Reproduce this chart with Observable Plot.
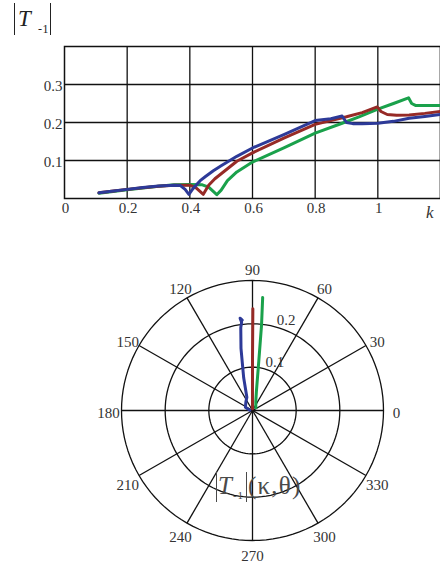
<!DOCTYPE html>
<html><head><meta charset="utf-8">
<script src="https://cdn.jsdelivr.net/npm/d3@7"></script>
<script src="https://cdn.jsdelivr.net/npm/@observablehq/plot@0.6"></script>
<style>
html,body{margin:0;padding:0;background:#fff;}
body{width:440px;height:569px;position:relative;overflow:hidden;font-family:"Liberation Serif","DejaVu Serif",serif;}
.chart{position:absolute;left:0;}
.lbl{position:absolute;line-height:1;white-space:nowrap;}
.bar{position:absolute;width:1.4px;}
</style></head>
<body>
<div id="top" class="chart" style="top:0"></div>
<div id="polar" class="chart" style="top:255px"></div>
<script>
// ---------- data: |T-1| versus k ----------
const xTicks = [0, 0.2, 0.4, 0.6, 0.8, 1];
const xGrid = [0.2, 0.4, 0.6, 0.8, 1, 1.2];
const yTicks = [0.1, 0.2, 0.3];

const kBlue = [0.11, 0.15, 0.2, 0.25, 0.3, 0.35, 0.37, 0.385, 0.397, 0.41, 0.433, 0.45, 0.475, 0.5, 0.55, 0.6, 0.7, 0.8, 0.85, 0.886, 0.9, 0.92, 0.95, 1.0, 1.05, 1.1, 1.15, 1.2];
const tBlue = [0.015, 0.019, 0.024, 0.029, 0.033, 0.035, 0.034, 0.024, 0.011, 0.026, 0.047, 0.058, 0.073, 0.086, 0.111, 0.133, 0.168, 0.205, 0.21, 0.217, 0.2, 0.197, 0.197, 0.198, 0.203, 0.211, 0.216, 0.221];

const kRed = [0.11, 0.15, 0.2, 0.25, 0.3, 0.35, 0.4, 0.42, 0.443, 0.46, 0.48, 0.5, 0.55, 0.6, 0.7, 0.8, 0.9, 0.95, 0.998, 1.01, 1.03, 1.06, 1.1, 1.15, 1.2];
const tRed = [0.015, 0.019, 0.024, 0.028, 0.032, 0.035, 0.035, 0.028, 0.011, 0.035, 0.052, 0.065, 0.098, 0.12, 0.159, 0.195, 0.215, 0.226, 0.241, 0.229, 0.221, 0.219, 0.22, 0.224, 0.229];

const kGreen = [0.11, 0.2, 0.3, 0.35, 0.4, 0.44, 0.46, 0.486, 0.5, 0.52, 0.55, 0.6, 0.7, 0.8, 0.886, 0.94, 1.0, 1.05, 1.098, 1.108, 1.12, 1.15, 1.2];
const tGreen = [0.014, 0.023, 0.032, 0.036, 0.037, 0.036, 0.03, 0.01, 0.022, 0.047, 0.07, 0.096, 0.133, 0.172, 0.198, 0.215, 0.235, 0.25, 0.265, 0.25, 0.245, 0.245, 0.245];

// ---------- data: polar |T-1|(kappa, theta) ----------
const spokeAngles = [0, 30, 60, 90, 120, 150, 180, 210, 240, 270, 300, 330];
const ringValues = [0.1, 0.2, 0.3];
const ringLabels = [0.1, 0.2];

const thetaBlue = [175, 155, 125, 113, 105, 100.4, 98, 97, 97.6, 96.4];
const rBlue = [0.006, 0.018, 0.026, 0.033, 0.078, 0.146, 0.193, 0.205, 0.215, 0.21];
const thetaRed = [90.3, 90, 89.8];
const rRed = [0.004, 0.12, 0.235];
const thetaGreen = [40, 70, 78.7, 82.8, 84, 84.9];
const rGreen = [0.01, 0.022, 0.046, 0.115, 0.198, 0.262];

const colBlue = "#2d3a98", colRed = "#962a26", colGreen = "#1aa14b";
const serif = "Liberation Serif, DejaVu Serif, serif";

const toRows = (ks, ts) => ks.map((k, i) => ({k, t: ts[i]}));
const rad = a => a * Math.PI / 180;
const toPolar = (th, rs) => th.map((a, i) => ({x: rs[i] * Math.cos(rad(a)), y: rs[i] * Math.sin(rad(a))}));

// ---------- top chart ----------
const lineOpts = c => ({x: "k", y: "t", stroke: c, strokeWidth: 3, strokeLinejoin: "round", strokeLinecap: "round"});
const txt = {fontFamily: serif, fontSize: 15, fill: "#333"};
const topChart = Plot.plot({
  width: 440, height: 230,
  marginLeft: 64, marginRight: 0, marginTop: 46, marginBottom: 32,
  x: {domain: [0, 1.2], axis: null},
  y: {domain: [0, 0.4], axis: null},
  style: {background: "transparent", overflow: "visible"},
  marks: [
    Plot.ruleX(xGrid, {x: d => d, stroke: "#111", strokeWidth: 1.3}),
    Plot.ruleY(yTicks, {y: d => d, stroke: "#111", strokeWidth: 1.3}),
    Plot.frame({stroke: "#111", strokeWidth: 1.5}),
    Plot.line(toRows(kGreen, tGreen), lineOpts(colGreen)),
    Plot.line(toRows(kRed, tRed), lineOpts(colRed)),
    Plot.line(toRows(kBlue, tBlue), lineOpts(colBlue)),
    Plot.text(xTicks, {...txt, x: d => d, frameAnchor: "bottom", dy: 14, dx: 1, text: d => String(d)}),
    Plot.text(yTicks, {...txt, y: d => d, frameAnchor: "left", dx: -2, dy: 2, textAnchor: "end", text: d => String(d)}),
    Plot.text(["k"], {...txt, frameAnchor: "bottom-right", dx: -7, dy: 19, fontStyle: "italic", fontSize: 17, text: d => d})
  ]
});
document.getElementById("top").appendChild(topChart);

// ---------- polar chart ----------
const ringPts = ringValues.flatMap(r => d3.range(0, 361, 3).map(a => ({ring: r, x: r * Math.cos(rad(a)), y: r * Math.sin(rad(a))})));
const outer = d3.max(ringValues);
const polarLine = c => ({x: "x", y: "y", stroke: c, strokeWidth: 3, strokeLinejoin: "round", strokeLinecap: "round"});
const polar = Plot.plot({
  width: 440, height: 314,
  marginLeft: 121, marginRight: 57, marginTop: 25, marginBottom: 29,
  x: {domain: [-0.3, 0.3], axis: null},
  y: {domain: [-0.3, 0.3], axis: null},
  style: {background: "transparent", overflow: "visible"},
  marks: [
    Plot.line(ringPts, {x: "x", y: "y", z: "ring", stroke: "#111", strokeWidth: 1.3}),
    Plot.link(spokeAngles, {x1: () => 0, y1: () => 0, x2: a => outer * Math.cos(rad(a)), y2: a => outer * Math.sin(rad(a)), stroke: "#111", strokeWidth: 1.3}),
    Plot.text(spokeAngles, {...txt, x: a => 0.33 * Math.cos(rad(a)), y: a => 0.33 * Math.sin(rad(a)), dy: 3, text: a => String(a)}),
    Plot.text(ringLabels, {...txt, x: r => (r + 0.015) * Math.cos(rad(75)), y: r => (r + 0.015) * Math.sin(rad(75)), textAnchor: "start", text: r => String(r)}),
    Plot.line(toPolar(thetaGreen, rGreen), polarLine(colGreen)),
    Plot.line(toPolar(thetaRed, rRed), polarLine(colRed)),
    Plot.line(toPolar(thetaBlue, rBlue), polarLine(colBlue))
  ]
});
document.getElementById("polar").appendChild(polar);

// ---------- titles (|T-1| and |T-1|(κ,θ)) ----------
function label(text, x, baseline, fs, extra) {
  const s = document.createElement("span");
  s.className = "lbl";
  s.textContent = text;
  s.style.left = x + "px";
  s.style.top = (baseline - 0.8375 * fs) + "px";
  s.style.fontSize = fs + "px";
  Object.assign(s.style, extra || {});
  document.body.appendChild(s);
}
function bar(x, y, h, color) {
  const b = document.createElement("div");
  b.className = "bar";
  b.style.left = x + "px"; b.style.top = y + "px"; b.style.height = h + "px"; b.style.background = color;
  document.body.appendChild(b);
}
// title above top chart
bar(14, 3, 32, "#222");
label("T", 18, 26.7, 23, {fontStyle: "italic", color: "#222"});
label("-", 38, 33.3, 12, {color: "#222"});
label("1", 42.5, 33.3, 12, {color: "#222"});
bar(49.5, 3, 32, "#222");
// caption inside polar chart
const capCol = "#4a4a4a";
bar(216, 472, 30, capCol);
label("T", 218, 493.5, 25, {fontStyle: "italic", color: capCol});
label("-", 233, 499.5, 11, {color: capCol});
label("1", 237.5, 499.5, 11, {color: capCol});
bar(246, 472, 30, capCol);
label("(κ,θ)", 248, 493.5, 25, {color: capCol, letterSpacing: "1.2px"});
</script>
</body></html>
